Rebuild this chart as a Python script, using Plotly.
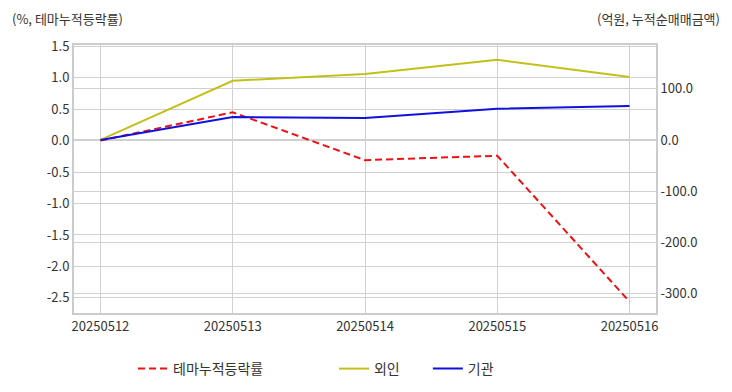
import plotly.graph_objects as go

dates = ["20250512", "20250513", "20250514", "20250515", "20250516"]
theme_rate = [0.0, 0.45, -0.31, -0.24, -2.56]
foreign = [0.0, 116.0, 129.0, 157.0, 123.5]
institution = [0.0, 45.0, 43.0, 61.0, 66.5]

FONT = "Noto Sans CJK KR, Noto Sans, sans-serif"

fig = go.Figure()
fig.add_trace(go.Scatter(x=dates, y=theme_rate, name="테마누적등락률", mode="lines",
                         line=dict(color="#ee1111", width=2, dash="7px,4px"), yaxis="y",
                         legend="legend"))
fig.add_trace(go.Scatter(x=dates, y=foreign, name="외인", mode="lines",
                         line=dict(color="#c3c01a", width=2), yaxis="y2", legend="legend2"))
fig.add_trace(go.Scatter(x=dates, y=institution, name="기관", mode="lines",
                         line=dict(color="#1111dd", width=2), yaxis="y2", legend="legend3"))

leg = dict(orientation="h", xanchor="left", y=-0.209, yanchor="middle",
           font=dict(size=14), bgcolor="rgba(0,0,0,0)")

fig.update_layout(
    width=732, height=392,
    margin=dict(l=74, r=76, t=45, b=79, autoexpand=False),
    paper_bgcolor="white", plot_bgcolor="white",
    font=dict(family=FONT, size=13, color="#333333"),
    xaxis=dict(type="category", range=[-0.2, 4.2], showgrid=True, gridcolor="#d0d0d0",
               showline=True, linecolor="#cccccc", linewidth=2, mirror=True,
               ticks="", zeroline=False, tickfont=dict(size=13), automargin=False),
    yaxis=dict(range=[-2.74, 1.52], tickvals=[1.5, 1.0, 0.5, 0.0, -0.5, -1.0, -1.5, -2.0, -2.5],
               ticktext=["1.5", "1.0", "0.5", "0.0", "-0.5", "-1.0", "-1.5", "-2.0", "-2.5"],
               showgrid=True, gridcolor="#d0d0d0", zeroline=False, ticks="",
               showline=True, linecolor="#cccccc", linewidth=2, tickfont=dict(size=13),
               automargin=False),
    yaxis2=dict(range=[-339, 186], overlaying="y", side="right",
                tickvals=[100, 0, -100, -200, -300],
                ticktext=["100.0", "0.0", "-100.0", "-200.0", "-300.0"],
                showgrid=True, gridcolor="#d0d0d0", zeroline=False, ticks="",
                showline=True, linecolor="#cccccc", linewidth=2, tickfont=dict(size=13),
                automargin=False),
    legend=dict(leg, x=0.1014),
    legend2=dict(leg, x=0.4467),
    legend3=dict(leg, x=0.608),
    showlegend=True,
    annotations=[
        dict(text="(%, 테마누적등락률)", xref="paper", yref="paper", x=-0.11, y=1.1,
             xanchor="left", yanchor="middle", showarrow=False, font=dict(size=13)),
        dict(text="(억원, 누적순매매금액)", xref="paper", yref="paper", x=1.114, y=1.1,
             xanchor="right", yanchor="middle", showarrow=False, font=dict(size=13)),
    ],
)

fig.write_html("out.html", config={"displayModeBar": False},
               post_script="document.body.style.margin='0';document.body.style.overflow='hidden';")
